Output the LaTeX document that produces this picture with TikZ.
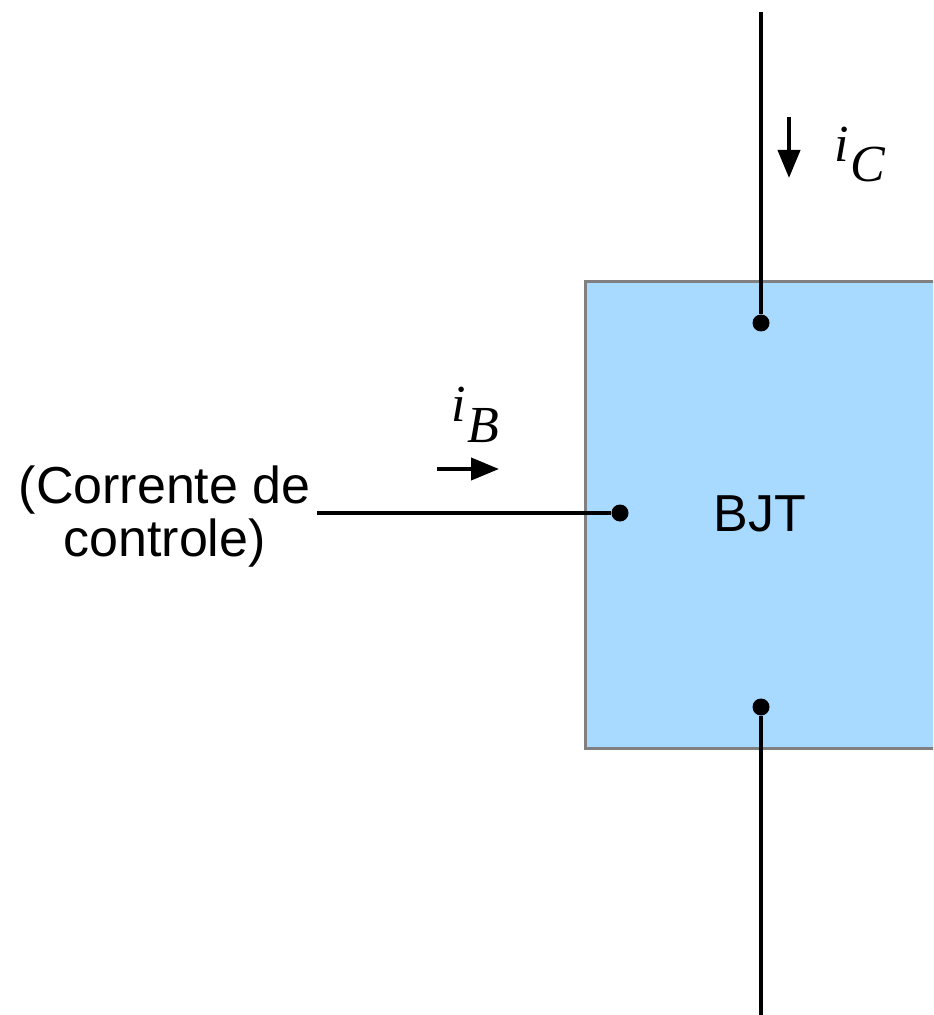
\documentclass[tikz,border=0pt]{standalone}
\usepackage{fontspec}
\setmainfont{Liberation Sans}
\newfontfamily\serifit{Liberation Serif}
\usepackage{tikz}
\usetikzlibrary{
  positioning,
  arrows.meta
}
\definecolor{caixa}{HTML}{A8D9FF}
\definecolor{borda}{HTML}{808080}

\begin{document}
\begin{tikzpicture}[
  x=0.5pt, y=-0.5pt,
  bloco/.style={draw=borda, line width=1.5pt, fill=caixa, rectangle, minimum width=200pt, minimum height=233pt, inner sep=0pt, font=\fontsize{26}{30}\selectfont},
  fio/.style={line width=2pt, black},
  pino/.style={circle, fill=black, inner sep=0pt, minimum size=8.5pt},
  seta/.style={line width=2pt, -{Triangle[length=14pt, width=11pt]}},
  rotulo/.style={font=\fontsize{26}{26.5}\selectfont, align=center, inner sep=3pt},
  corrente/.style={font=\serifit\itshape\fontsize{26}{30}\selectfont, inner sep=0pt, anchor=base west},
]
\useasboundingbox (0,0) rectangle (933,1015);
\clip (0,0) rectangle (933,1015);

% Bloco do transistor
\node[bloco] (bjt) at (785,515) {};
\node[font=\fontsize{26}{30}\selectfont, inner sep=0pt] (nome) at (760,514) {BJT};

% Terminais
\node[pino] (col) at (761,323) {};
\node[pino] (emi) at (761,707) {};
\node[pino] (bas) at (620,513) {};
\coordinate (topo) at (761,12);
\coordinate (baixo) at (761,1030);

\draw[fio] (topo) -- (col);
\draw[fio] (emi) -- (baixo);

% Base
\node[rotulo, anchor=east] (ctrl) at (317,517) {(Corrente de\\controle)};
\draw[fio] (ctrl.east |- bas) -- (bas);

% Correntes
\coordinate (ic1) at (789,117);
\coordinate (ic2) at (789,178);
\draw[seta] (ic1) -- (ic2);
\node[corrente] (ic) at (834,162) {i\kern1pt\raisebox{-0.38em}{C}};

\coordinate (ib1) at (437,469);
\coordinate (ib2) at (499,469);
\draw[seta] (ib1) -- (ib2);
\node[corrente] (ib) at (451,422) {i\kern1pt\raisebox{-0.4em}{B}};

\end{tikzpicture}
\end{document}
